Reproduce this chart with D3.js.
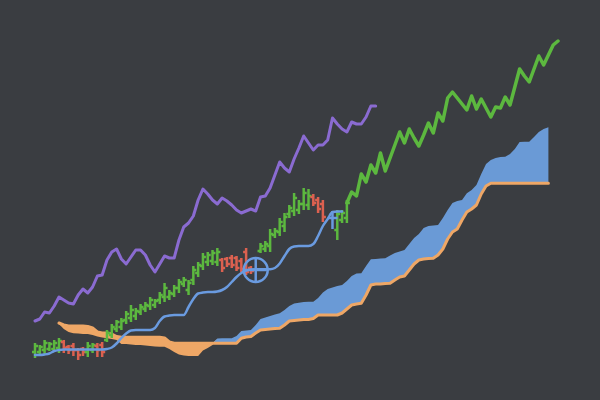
<!DOCTYPE html>
<html><head><meta charset="utf-8">
<script src="https://cdn.jsdelivr.net/npm/d3@7/dist/d3.min.js"></script>
<style>html,body{margin:0;padding:0;background:#3a3d41;} svg{display:block}</style>
</head><body>
<svg id="c" width="600" height="400"></svg>
<script>
// ---- data (index positions on a shared period axis, price-like values) ----
const cloudStart = 5;
const spanB = [
  77, 75, 74, 74, 74, 74, 73.5, 72, 68, 67,
  67, 66, 63.5, 62.7, 62.7, 62.7, 62.7, 62.7, 62.7, 62.7,
  62.7, 62.7, 62, 58, 56.7, 56.7, 56.7, 56.7, 56.7, 56.7,
  56.7, 56.7, 56.7, 56.7, 56.7, 56.7, 56.7, 56.7, 61.7, 63,
  63.5, 67, 70, 70.5, 71, 71.5, 71.7, 75, 79, 79.5,
  80, 80.5, 80.5, 81.5, 85, 85, 85, 85, 85, 87,
  91, 95, 96, 96.7, 105, 115, 116, 116, 116.5, 116.7,
  120, 123, 124, 130, 136, 140, 141, 141.5, 141.7, 145,
  151, 161, 168, 171, 180, 188, 191, 195, 206, 214,
  216.7, 216.7, 216.7, 216.7, 216.7, 216.7, 216.7, 216.7, 216.7, 216.7,
  216.7, 216.7, 216.7
];
const spanA = [
  76, 71, 68, 66.7, 66.5, 66, 66, 65, 63.5, 62.5,
  61.7, 61, 60, 56, 56, 55.5, 55, 55, 54.5, 54,
  53.5, 53.3, 53.3, 51, 48, 45.5, 44.5, 44, 44, 44,
  49.5, 52, 55, 61.5, 61.7, 61.7, 61.7, 64, 69, 69.5,
  70, 75, 81, 82.5, 84, 85.5, 86.7, 90, 94, 96.5,
  97.3, 98, 98.3, 98.3, 102, 107.5, 111, 112.5, 114, 115,
  119, 124, 126.5, 126.7, 134, 140.7, 141, 141.5, 141.7, 144.5,
  147, 148.5, 150, 156, 162, 166, 172, 174, 174.5, 175,
  182, 190, 197, 199, 200, 206.7, 210, 215, 226, 236,
  240, 242, 243, 243.3, 246, 251, 258, 258.3, 258.3, 263,
  268, 271, 272.7
];
const kijun = [
  45, 45, 45.5, 46.5, 49, 50, 50.5, 50.5, 50.5, 50.5,
  50.5, 50.5, 50.5, 50.5, 50.5, 51, 52.5, 56.5, 62, 66.5,
  69.5, 70, 70, 70, 70, 72, 79, 83.5, 84.5, 85,
  85, 85, 93, 101, 106.5, 107.5, 108, 108, 108.5, 110,
  113, 118, 123, 127, 129.5, 130.5, 130.7, 130.7, 130.7, 130.7,
  132, 136.5, 144, 151, 153.5, 154, 154, 154, 156, 164,
  174, 181, 188, 188.5, 188.5
];
const lagging = [
  79, 81, 88, 87, 94, 103, 100, 97, 96, 105,
  111, 107, 113, 124, 125, 140, 148, 151, 141, 136,
  143, 150, 150, 145, 135, 128, 136, 144, 142, 142,
  160, 173, 177, 184, 200, 211, 206, 200, 196, 202,
  199, 195, 190, 187, 189, 191, 189, 203, 204, 212,
  225, 238, 232, 228, 241, 252, 264, 257, 250, 255,
  255, 260, 282, 276, 271, 268, 278, 276, 276, 283,
  294, 294
];
const closeLineStart = 65;
const closeLine = [
  197, 208, 204, 226, 218, 235, 227, 247, 229, 242,
  255, 268, 257, 271, 262, 254, 265, 277, 267, 287,
  279, 302, 308, 302, 296, 290, 304, 291, 301, 292,
  283, 293, 292, 303, 295, 313, 331, 324, 318, 331,
  344, 335, 345, 355, 359
];
const opens = [
  48, 48, 50, 51, 51, 52, 58, 53, 54, 50,
  51, 48, 50, 54, 55, 60, 65, 71, 73, 80,
  82, 84, 88, 91, 94, 95, 100, 103, 103, 106,
  112, 116, 110, 120, 127, 134, 138, 139, 138, 140,
  141, 142, 142, 139, 148, 132, null, 149, 151, 154,
  165, 168, 174, 186, 189, 190, 196, 195, 203, 200,
  196, null, null, 170, 180, 182
];
const highs = [
  57, 55, 60, 58, 60, 62, 60, 55, 57, 52,
  53, 58, 57, 57, 58, 70, 76, 80, 82, 89,
  95, 92, 96, 98, 103, 101, 108, 117, 110, 115,
  121, 123, 120, 134, 138, 147, 148, 150, 152, 142,
  143, 145, 144, 142, 152, 134, null, 157, 159, 171,
  172, 182, 187, 195, 207, 200, 212, 211, 206, 203,
  200, null, null, 190, 190, 200
];
const lows = [
  42, 46, 45, 49, 48, 47, 47, 46, 44, 40,
  44, 43, 47, 43, 43, 58, 62, 68, 70, 76,
  78, 80, 85, 88, 90, 92, 96, 98, 100, 103,
  107, 113, 105, 115, 123, 130, 134, 135, 134, 128,
  133, 132, 129, 128, 125, 126, null, 147, 148, 148,
  162, 164, 168, 182, 184, 186, 190, 190, 194, 187,
  178, null, null, 160, 177, 177
];
const closes = [
  54, 53, 57, 56, 57, 59, 52, 50, 50, 45,
  48, 54, 55, 50, 48, 67, 73, 78, 79, 86,
  90, 89, 93, 95, 100, 99, 105, 112, 107, 112,
  118, 120, 117, 130, 135, 143, 145, 147, 148, 132,
  136, 135, 132, 131, 128, 129, null, 154, 156, 166,
  169, 178, 183, 192, 202, 196, 207, 204, 197, 191,
  183, null, null, 186, 187, 197
];
const crossIdx = [46, 62];
const crossVal = [130, 181];
const crossRing = [true, false];

// ---- colours ----
const C = {
  bg: "#3a3d41", up: "#5cb83f", down: "#dc6150", kijun: "#6a9be0",
  cloudUp: "#6a9ad6", cloudDown: "#eea766", spanB: "#eea766",
  lag: "#8a6bd1", close: "#5cb83f"
};

const svg = d3.select("#c");
svg.append("rect").attr("width", 600).attr("height", 400).attr("fill", C.bg);

const x = d3.scaleLinear().domain([0, 109]).range([35, 558]);
const y = d3.scaleLinear().domain([0, 400]).range([400, 0]);

// ---- cloud ----
const cloud = spanA.map((a, k) => ({ i: cloudStart + k, a, b: spanB[k] }));
const areaUp = d3.area().x(d => x(d.i)).y0(d => y(d.b)).y1(d => y(Math.max(d.a, d.b)));
const areaDown = d3.area().x(d => x(d.i)).y0(d => y(d.a)).y1(d => y(Math.max(d.a, d.b)));
svg.append("path").datum(cloud).attr("d", areaDown).attr("fill", C.cloudDown);
svg.append("path").datum(cloud).attr("d", areaUp).attr("fill", C.cloudUp);
svg.append("path").datum(cloud)
  .attr("d", d3.line().x(d => x(d.i)).y(d => y(d.b)))
  .attr("fill", "none").attr("stroke", C.spanB).attr("stroke-width", 3)
  .attr("stroke-linejoin", "round").attr("stroke-linecap", "round");

// ---- OHLC bars ----
const bars = opens.map((o, i) => ({ i, o, h: highs[i], l: lows[i], c: closes[i] })).filter(d => d.o !== null);
const tick = 3;
const g = svg.append("g").attr("stroke-width", 2.5).attr("fill", "none");
bars.forEach(d => {
  const col = d.c >= d.o ? C.up : C.down;
  const cx = x(d.i);
  g.append("line").attr("x1", cx).attr("x2", cx).attr("y1", y(d.h)).attr("y2", y(d.l)).attr("stroke", col);
  g.append("line").attr("x1", cx - tick).attr("x2", cx).attr("y1", y(d.o)).attr("y2", y(d.o)).attr("stroke", col);
  g.append("line").attr("x1", cx).attr("x2", cx + tick).attr("y1", y(d.c)).attr("y2", y(d.c)).attr("stroke", col);
});

// ---- kijun ----
svg.append("path").datum(kijun.map((v, i) => ({ i, v })))
  .attr("d", d3.line().x(d => x(d.i)).y(d => y(d.v)).curve(d3.curveMonotoneX))
  .attr("fill", "none").attr("stroke", C.kijun).attr("stroke-width", 2.5)
  .attr("stroke-linecap", "round");

// ---- cross markers ----
crossIdx.forEach((ci, k) => {
  const cx = x(ci), cy = y(crossVal[k]);
  const mg = svg.append("g").attr("stroke", C.kijun).attr("stroke-width", 2.5).attr("fill", "none");
  if (crossRing[k]) {
    mg.append("circle").attr("cx", cx).attr("cy", cy).attr("r", 12);
    mg.append("line").attr("x1", cx).attr("x2", cx).attr("y1", cy - 11).attr("y2", cy + 11);
    mg.append("line").attr("x1", cx - 11).attr("x2", cx + 11).attr("y1", cy).attr("y2", cy);
  } else {
    mg.append("line").attr("x1", cx).attr("x2", cx).attr("y1", cy - 8).attr("y2", cy + 10);
    mg.append("line").attr("x1", cx - 5).attr("x2", cx + 5).attr("y1", cy - 1).attr("y2", cy - 1);
  }
});

// ---- lagging line ----
svg.append("path").datum(lagging.map((v, i) => ({ i, v })))
  .attr("d", d3.line().x(d => x(d.i)).y(d => y(d.v)))
  .attr("fill", "none").attr("stroke", C.lag).attr("stroke-width", 3)
  .attr("stroke-linejoin", "round").attr("stroke-linecap", "round");

// ---- close line ----
svg.append("path").datum(closeLine.map((v, k) => ({ i: closeLineStart + k, v })))
  .attr("d", d3.line().x(d => x(d.i)).y(d => y(d.v)))
  .attr("fill", "none").attr("stroke", C.close).attr("stroke-width", 3.5)
  .attr("stroke-linejoin", "round").attr("stroke-linecap", "round");
</script>
</body></html>
